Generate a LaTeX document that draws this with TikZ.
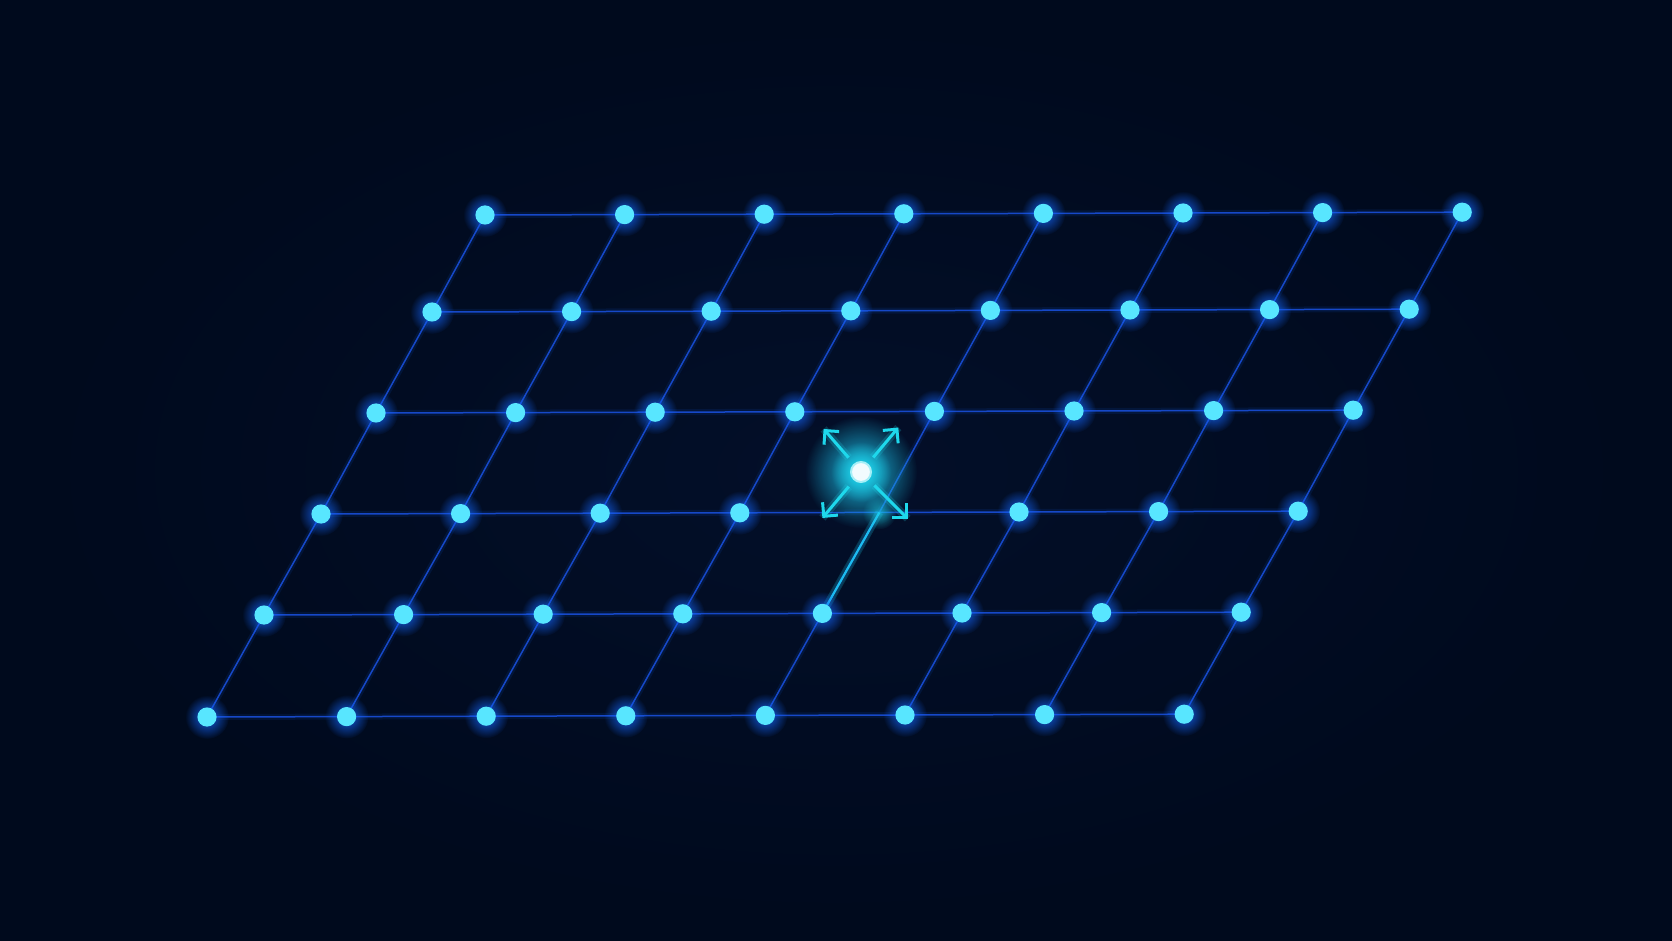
\documentclass[tikz,border=0pt]{standalone}
\usetikzlibrary{arrows.meta,fadings,backgrounds}

\definecolor{bgnavy}{HTML}{000A1D}
\definecolor{bgglow}{HTML}{071536}
\definecolor{gridblue}{HTML}{1648C8}
\definecolor{glowblue}{HTML}{1466FF}
\definecolor{dotcyan}{HTML}{58E6FF}
\definecolor{hotcyan}{HTML}{1ED8EC}

\tikzfading[name=glowfade,inner color=transparent!0,outer color=transparent!100]

\begin{document}
\begin{tikzpicture}[x=0.5pt,y=-0.5pt,
  dot/.style={circle,fill=dotcyan,inner sep=0pt,minimum size=9.6pt},
  ghost/.style={circle,inner sep=0pt,minimum size=4pt},
  hot/.style={circle,fill=white!95!cyan,draw=hotcyan!40!white,line width=1pt,
    inner sep=0pt,minimum size=10pt,outer sep=4.5pt},
  halo/.style={fill=#1,path fading=glowfade},
  link/.style={gridblue,line width=.75pt,preaction={draw=glowblue,line width=3pt,draw opacity=.1}},
  kick/.style={hotcyan,line width=1.5pt,-{Straight Barb[length=5pt,width=10pt]},
    preaction={draw=hotcyan,line width=4pt,draw opacity=.2,arrows=-}}]
  \useasboundingbox (0,0) rectangle (1672,941);

  % Lattice points
  \foreach \r/\yy/\xx in {0/215/485, 1/312/432, 2/413/376, 3/514/321, 4/615/264, 5/717/207}
    \foreach \c in {0,...,7}
      {\ifnum\r\c=34
         \node[ghost] (n-\r-\c) at ({\xx+139.6*\c},{\yy-0.4*\c}) {};
       \else
         \node[dot] (n-\r-\c) at ({\xx+139.6*\c},{\yy-0.4*\c}) {};
       \fi}

  % Displaced atom
  \node[hot] (hot) at (861,472) {};
  \coordinate (tip-ul) at ([shift={(131:28.5pt)}]hot.center);
  \coordinate (tip-ur) at ([shift={(50:29pt)}]hot.center);
  \coordinate (tip-ll) at ([shift={(230:30pt)}]hot.center);
  \coordinate (tip-lr) at ([shift={(315:33pt)}]hot.center);
  \foreach \t in {ul,ur,ll,lr}
    \draw[kick] (hot) -- (tip-\t);

  \begin{pgfonlayer}{background}
    % Background
    \fill[bgnavy] (0,0) rectangle (1672,941);
    \fill[halo=bgglow,opacity=.5] (836,470) ellipse (830 and 468);

    % Bonds
    \foreach \r in {0,...,5}
      \foreach \c [count=\d from 1] in {0,...,6}
        \draw[link] (n-\r-\c.center) -- (n-\r-\d.center);
    \foreach \r [count=\s from 1] in {0,...,4}
      \foreach \c in {0,...,7}
        \draw[link] (n-\r-\c.center) -- (n-\s-\c.center);
    \draw[hotcyan!75!glowblue,line width=1.1pt,
      preaction={draw=hotcyan,line width=4pt,draw opacity=.2}] (n-3-4.center) -- (n-4-4.center);

    % Glows
    \foreach \r in {0,...,5}
      \foreach \c in {0,...,7}
        {\ifnum\r\c=34 \else
           \fill[halo=glowblue,opacity=.9] (n-\r-\c) circle (22);
         \fi}
    \fill[halo=hotcyan,opacity=.6] (n-3-4) circle (17);
    \fill[halo=hotcyan!85!glowblue,opacity=.95] (hot) circle (56);
    \fill[halo=hotcyan,opacity=1] (hot) circle (30);
  \end{pgfonlayer}
\end{tikzpicture}
\end{document}
